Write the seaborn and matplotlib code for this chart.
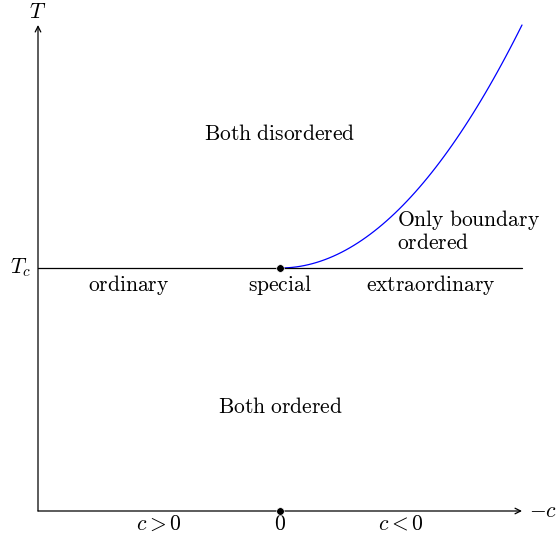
import numpy as np
import pandas as pd
import seaborn as sns
import matplotlib.pyplot as plt

sns.set_style('white')
plt.rcParams['mathtext.fontset'] = 'cm'
plt.rcParams['font.family'] = ['DejaVu Serif']
plt.rcParams['text.color'] = 'black'

# boundary curve T = Tc + (-c)^2, from the special point out to the edge
curve_x = np.linspace(0, 1, 60)
curve_T = 1 + curve_x ** 2
tc_line_x = [-1, 1]
tc_line_T = [1, 1]
dots_x = [0, 0]
dots_T = [1, 0]

regions = ['Both disordered', 'Only boundary\nordered', 'ordinary', 'special',
           'extraordinary', 'Both ordered']
bottom_labels = [r'$c>0$', r'$0$', r'$c<0$']
bottom_x = [-0.5, 0, 0.5]

fig = plt.figure(figsize=(5.57, 5.35), dpi=100)
ax = fig.add_axes([0, 0, 1, 1])
ax.set_xlim(-1 - 38 / 242, 1 + 35 / 242)
ax.set_ylim(-24 / 243, 2 + 25 / 243)
ax.axis('off')

curve = pd.DataFrame({'x': curve_x, 'T': curve_T})
sns.lineplot(data=curve, x='x', y='T', color='blue', lw=0.9, ax=ax)
sns.lineplot(x=tc_line_x, y=tc_line_T, color='black', lw=0.9, ax=ax)

# axes with arrows
ax.annotate('', xy=(1, 0), xytext=(-1, 0),
            arrowprops=dict(arrowstyle='->', lw=0.9, color='black', shrinkA=0, shrinkB=0))
ax.annotate('', xy=(-1, 2), xytext=(-1, 0),
            arrowprops=dict(arrowstyle='->', lw=0.9, color='black', shrinkA=0, shrinkB=0))

sns.scatterplot(x=dots_x, y=dots_T, color='black', s=30, zorder=5, ax=ax)

def rm(s):
    return '\n'.join(r'$\mathrm{' + line.replace(' ', r'\ ') + '}$' for line in s.split('\n'))

fs = 15.5
ax.text(0, 1.551, rm(regions[0]), ha='center', va='center', fontsize=fs)
ax.text(0.483, 1.152, rm(regions[1]), ha='left', va='center', fontsize=fs, linespacing=1.05)
ax.text(-0.624, 0.930, rm(regions[2]), ha='center', va='center', fontsize=fs)
ax.text(0, 0.930, rm(regions[3]), ha='center', va='center', fontsize=fs)
ax.text(0.624, 0.930, rm(regions[4]), ha='center', va='center', fontsize=fs)
ax.text(0, 0.428, rm(regions[5]), ha='center', va='center', fontsize=fs)

for lab, x in zip(bottom_labels, bottom_x):
    ax.text(x, -0.053, lab, ha='center', va='center', fontsize=fs)

ax.text(-1, 2.053, r'$T$', ha='center', va='center', fontsize=fs)
ax.text(-1.074, 1, r'$T_c$', ha='center', va='center', fontsize=fs)
ax.text(1.145, 0, r'$-c$', ha='right', va='center', fontsize=fs)

fig.savefig('out.png', dpi=100)
